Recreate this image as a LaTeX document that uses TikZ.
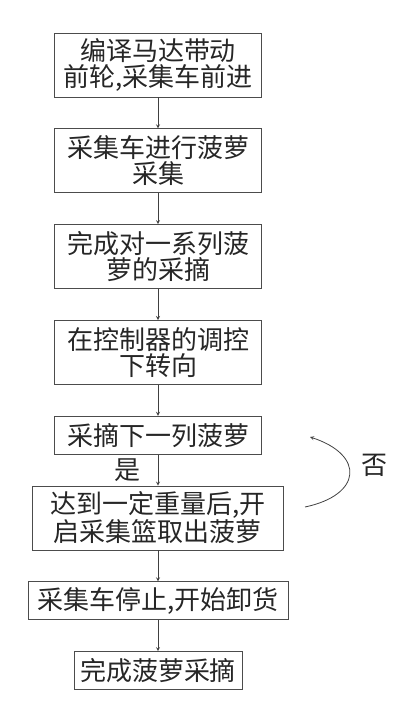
\documentclass[tikz,border=0pt]{standalone}
\usepackage{fontspec}
\usepackage{tikz}
\usetikzlibrary{arrows,positioning}
\newfontfamily\cjk{Noto Sans CJK SC}
\tikzstyle{arrow}=[
  color=black!75,
  draw=black!75,
  line width=0.8pt,
]
\tikzstyle{process}=[
  rectangle,
  draw=black!70,
  line width=0.8pt,
  text=black!85,
  font={\cjk\fontsize{26}{26}\selectfont},
  align=center,
  inner sep=1pt,
  minimum width=207pt,
  minimum height=64pt,
]
\tikzstyle{short}=[
  minimum height=38pt,
]
\tikzstyle{tag}=[
  text=black!85,
  font={\cjk\fontsize{26}{26}\selectfont},
  inner sep=0pt,
]
\tikzset{
  node distance=31pt,
  >=stealth,
}

\begin{document}
\begin{tikzpicture}[x=1pt,y=1pt]
  \useasboundingbox (0,0) rectangle (404,-705);
  \node [process] (DRIVE) at (158,-65) {编译马达带动\\前轮,采集车前进};
  \node [process, below=of DRIVE] (COLLECT) {采集车进行菠萝\\采集};
  \node [process, below=of COLLECT] (ROW) {完成对一系列菠\\萝的采摘};
  \node [process, below=of ROW] (TURN) {在控制器的调控\\下转向};
  \node [process, short, below=of TURN] (NEXT) {采摘下一列菠萝};
  \node [process, minimum width=251pt, below=of NEXT] (BASKET) {达到一定重量后,开\\启采集篮取出菠萝};
  \node [process, short, minimum width=260pt, below=of BASKET] (STOP) {采集车停止,开始卸货};
  \node [process, short, minimum width=168pt, below=of STOP] (DONE) {完成菠萝采摘};
  \draw [arrow, ->] (DRIVE) -- (COLLECT);
  \draw [arrow, ->] (COLLECT) -- (ROW);
  \draw [arrow, ->] (ROW) -- (TURN);
  \draw [arrow, ->] (TURN) -- (NEXT);
  \draw [arrow, ->] (NEXT) -- node [tag, left=17pt] (YES) {是} (BASKET);
  \draw [arrow, ->] (BASKET) -- (STOP);
  \draw [arrow, ->] (STOP) -- (DONE);
  % loop back
  \coordinate (LOOPA) at (305,-507);
  \coordinate (LOOPB) at (310,-437);
  \draw [arrow, ->] (LOOPA) .. controls (362,-495) and (365,-455) .. (LOOPB);
  \node [tag] (NO) at (374,-465) {否};
\end{tikzpicture}
\end{document}
